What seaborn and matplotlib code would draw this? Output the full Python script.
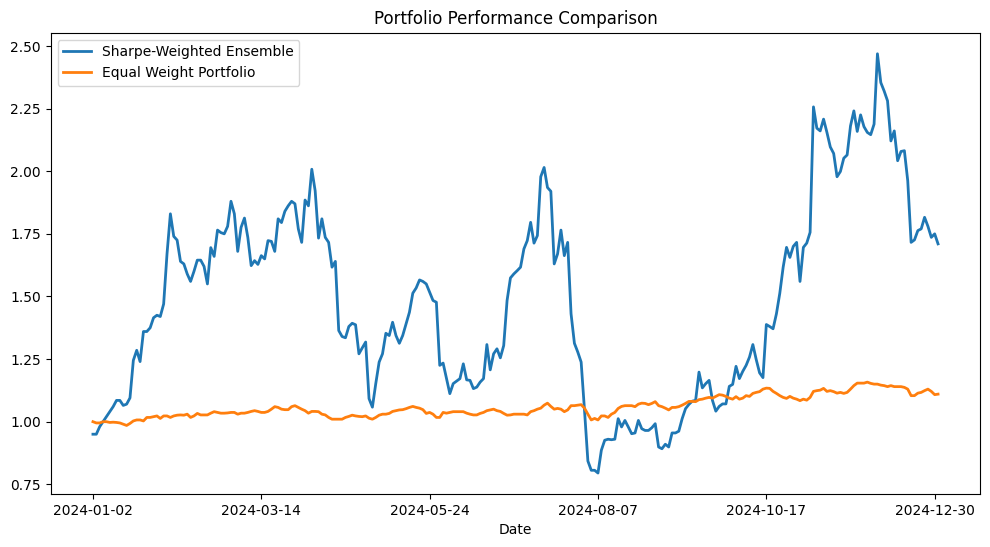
import matplotlib
matplotlib.use("Agg")
import matplotlib.pyplot as plt
import seaborn as sns
import numpy as np
import pandas as pd

# Trading-day index (0..251) and tick labels every 50 trading days
tick_positions = [0, 50, 100, 150, 200, 250]
tick_labels = ["2024-01-02", "2024-03-14", "2024-05-24", "2024-08-07", "2024-10-17", "2024-12-30"]

sharpe_weighted = [
    0.95, 0.95, 0.98, 1.00, 1.02, 1.04, 1.06, 1.085, 1.085, 1.065,
    1.07, 1.095, 1.245, 1.285, 1.24, 1.36, 1.36, 1.375, 1.415, 1.425,
    1.42, 1.47, 1.67, 1.83, 1.74, 1.725, 1.64, 1.63, 1.59, 1.56,
    1.60, 1.645, 1.645, 1.62, 1.55, 1.695, 1.66, 1.765, 1.755, 1.75,
    1.78, 1.88, 1.83, 1.68, 1.776, 1.813, 1.736, 1.623, 1.643, 1.628,
    1.663, 1.65, 1.723, 1.72, 1.68, 1.81, 1.795, 1.84, 1.862, 1.88,
    1.87, 1.77, 1.716, 1.885, 1.862, 2.008, 1.922, 1.733, 1.81, 1.736,
    1.716, 1.617, 1.64, 1.364, 1.34, 1.335, 1.38, 1.393, 1.387, 1.271,
    1.295, 1.318, 1.092, 1.058, 1.152, 1.238, 1.271, 1.353, 1.344, 1.397,
    1.344, 1.313, 1.344, 1.39, 1.437, 1.513, 1.534, 1.566, 1.56, 1.55,
    1.517, 1.484, 1.477, 1.225, 1.234, 1.172, 1.112, 1.152, 1.162, 1.172,
    1.231, 1.167, 1.165, 1.132, 1.138, 1.158, 1.172, 1.308, 1.207, 1.271,
    1.291, 1.255, 1.304, 1.484, 1.574, 1.59, 1.603, 1.617, 1.69, 1.723,
    1.796, 1.713, 1.743, 1.978, 2.015, 1.935, 1.92, 1.63, 1.67, 1.765,
    1.663, 1.716, 1.431, 1.313, 1.278, 1.238, 1.045, 0.843, 0.806, 0.806,
    0.795, 0.886, 0.926, 0.93, 0.928, 0.93, 1.012, 0.979, 1.005, 0.979,
    0.952, 0.955, 1.005, 0.972, 0.965, 0.965, 0.976, 0.992, 0.899, 0.892,
    0.91, 0.899, 0.955, 0.955, 0.962, 1.012, 1.052, 1.069, 1.082, 1.085,
    1.198, 1.135, 1.152, 1.165, 1.085, 1.042, 1.061, 1.071, 1.071, 1.141,
    1.149, 1.221, 1.172, 1.201, 1.225, 1.258, 1.308, 1.248, 1.195, 1.176,
    1.388, 1.38, 1.371, 1.431, 1.513, 1.617, 1.696, 1.656, 1.70, 1.716,
    1.56, 1.696, 1.713, 1.756, 2.257, 2.172, 2.161, 2.208, 2.155, 2.097,
    2.071, 1.978, 1.999, 2.052, 2.065, 2.181, 2.241, 2.159, 2.225, 2.178,
    2.155, 2.146, 2.188, 2.469, 2.354, 2.32, 2.281, 2.121, 2.161, 2.042,
    2.079, 2.082, 1.962, 1.716, 1.726, 1.763, 1.77, 1.816, 1.78, 1.736,
    1.75, 1.71,
]

equal_weight = [
    1.00, 0.995, 0.995, 1.00, 1.00, 0.997, 0.998, 0.997, 0.995, 0.99,
    0.985, 0.993, 1.003, 1.007, 1.007, 1.003, 1.017, 1.017, 1.02, 1.023,
    1.013, 1.023, 1.023, 1.017, 1.023, 1.026, 1.027, 1.026, 1.03, 1.017,
    1.023, 1.033, 1.027, 1.027, 1.027, 1.034, 1.04, 1.037, 1.034, 1.034,
    1.035, 1.037, 1.037, 1.03, 1.034, 1.034, 1.037, 1.041, 1.044, 1.041,
    1.037, 1.037, 1.041, 1.05, 1.06, 1.057, 1.05, 1.048, 1.048, 1.06,
    1.064, 1.057, 1.05, 1.044, 1.034, 1.041, 1.041, 1.04, 1.03, 1.027,
    1.017, 1.01, 1.01, 1.01, 1.01, 1.017, 1.021, 1.026, 1.023, 1.021,
    1.02, 1.023, 1.014, 1.01, 1.017, 1.026, 1.03, 1.03, 1.033, 1.041,
    1.044, 1.047, 1.048, 1.052, 1.057, 1.061, 1.057, 1.054, 1.048, 1.033,
    1.037, 1.03, 1.017, 1.017, 1.037, 1.034, 1.037, 1.04, 1.04, 1.04,
    1.04, 1.034, 1.03, 1.027, 1.027, 1.033, 1.037, 1.044, 1.047, 1.05,
    1.044, 1.041, 1.033, 1.026, 1.027, 1.03, 1.03, 1.03, 1.03, 1.027,
    1.04, 1.044, 1.05, 1.054, 1.066, 1.074, 1.061, 1.05, 1.053, 1.05,
    1.04, 1.047, 1.064, 1.064, 1.066, 1.068, 1.054, 1.03, 1.007, 1.013,
    1.007, 1.023, 1.023, 1.017, 1.03, 1.037, 1.053, 1.061, 1.064, 1.064,
    1.064, 1.06, 1.07, 1.074, 1.073, 1.068, 1.073, 1.08, 1.064, 1.06,
    1.054, 1.047, 1.057, 1.057, 1.06, 1.066, 1.073, 1.081, 1.081, 1.08,
    1.088, 1.09, 1.094, 1.097, 1.094, 1.101, 1.108, 1.106, 1.101, 1.094,
    1.09, 1.10, 1.09, 1.094, 1.104, 1.101, 1.113, 1.117, 1.12, 1.13,
    1.134, 1.133, 1.121, 1.113, 1.104, 1.097, 1.093, 1.101, 1.094, 1.09,
    1.084, 1.09, 1.086, 1.097, 1.121, 1.124, 1.126, 1.133, 1.121, 1.124,
    1.12, 1.114, 1.117, 1.113, 1.117, 1.13, 1.144, 1.154, 1.154, 1.154,
    1.158, 1.153, 1.15, 1.15, 1.146, 1.144, 1.14, 1.144, 1.14, 1.14,
    1.14, 1.137, 1.13, 1.104, 1.104, 1.114, 1.117, 1.124, 1.13, 1.121,
    1.108, 1.11,
]

day_index = list(range(len(sharpe_weighted)))

fig, ax = plt.subplots(figsize=(9.9, 5.47), dpi=100)
sns.lineplot(x=day_index, y=sharpe_weighted, ax=ax, color="#1f77b4",
             linewidth=2, label="Sharpe-Weighted Ensemble")
sns.lineplot(x=day_index, y=equal_weight, ax=ax, color="#ff7f0e",
             linewidth=2, label="Equal Weight Portfolio")

ax.set_xticks(tick_positions)
ax.set_xticklabels(tick_labels)
ax.set_title("Portfolio Performance Comparison")
ax.set_xlabel("Date")
ax.set_ylabel("")
ax.legend(loc="upper left")

fig.subplots_adjust(left=0.0512, right=0.9902, top=0.940, bottom=0.0969)
fig.savefig("out.png", dpi=100)
